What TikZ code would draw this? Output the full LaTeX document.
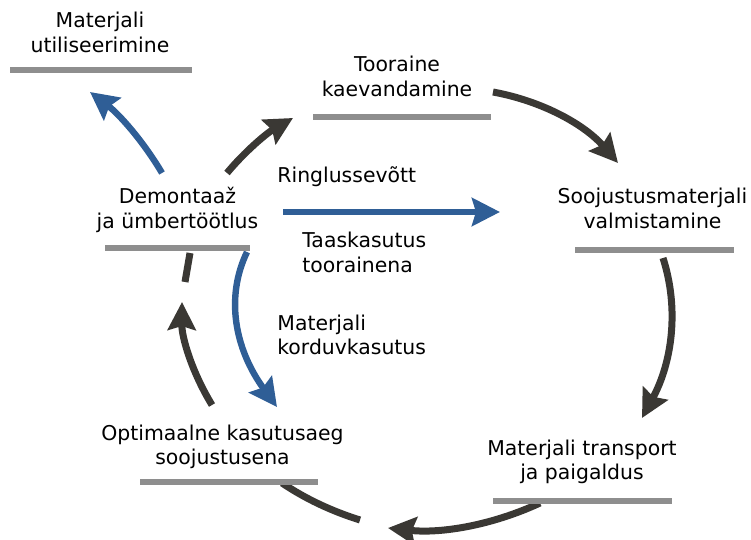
\documentclass[tikz,border=0pt]{standalone}
\usepackage{fontspec}
\setmainfont{DejaVu Sans}
\usepackage{tikz}
\usetikzlibrary{arrows.meta,positioning}
\definecolor{arrowgray}{HTML}{3A3834}
\definecolor{arrowblue}{HTML}{2F5E96}
\definecolor{bargray}{HTML}{8E8E8E}

\begin{document}
\begin{tikzpicture}[x=0.5pt, y=-0.5pt]
\tikzstyle{stage}=[font=\fontsize{10.2}{12.5}\selectfont, align=center, anchor=base, inner sep=0pt]
\tikzstyle{note}=[stage, align=left, anchor=base west]
\tikzstyle{bar}=[draw=bargray, line width=2.6pt]
\tikzstyle{flow}=[draw=arrowgray, line width=3.5pt, -{Stealth[length=14pt, width=14pt, inset=2pt]}]
\tikzstyle{stub}=[draw=arrowgray, line width=3.5pt]
\tikzstyle{reuse}=[draw=arrowblue, line width=3.2pt, -{Stealth[length=14pt, width=14pt, inset=2pt]}]
\useasboundingbox (0,0) rectangle (751,540);

% base anchor sits on the last line
\node[stage] (0) at (100,53) {Materjali\\utiliseerimine};
\node[stage] (1) at (397,97) {Tooraine\\kaevandamine};
\node[stage] (2) at (652.5,228) {Soojustusmaterjali\\valmistamine};
\node[stage] (3) at (177.5,228) {Demontaaž\\ja ümbertöötlus};
\node[stage] (4) at (582,480) {Materjali transport\\ja paigaldus};
\node[stage] (5) at (222.5,465) {Optimaalne kasutusaeg\\soojustusena};
\node[note] (6) at (277,183) {Ringlussevõtt};
\node[note] (7) at (302,272) {Taaskasutus\\toorainena};
\node[note] (8) at (277,355) {Materjali\\korduvkasutus};

% arrow ends
\coordinate (a0) at (162,173); \coordinate (a1) at (90,92);
\coordinate (b0) at (227,173); \coordinate (b1) at (293,118);
\coordinate (c0) at (493,92);  \coordinate (c1) at (618,163);
\coordinate (d0) at (663,258); \coordinate (d1) at (642,418);
\coordinate (e0) at (540,503); \coordinate (e1) at (388,528);
\coordinate (f0) at (212,405); \coordinate (f1) at (182,302);
\coordinate (g0) at (247,252); \coordinate (g1) at (277,407);
\coordinate (h0) at (283,212); \coordinate (h1) at (500,212);
\coordinate (s0) at (282,483); \coordinate (s1) at (360,520);
\coordinate (t0) at (190,253); \coordinate (t1) at (185,282);

\draw[reuse] (a0) .. controls (143.3,141.3) and (119.3,114.3) .. (a1);
\draw[flow] (b0) .. controls (245,151.3) and (267,133) .. (b1);
\draw[flow] (c0) .. controls (543.3,101.3) and (585,125) .. (c1);
\draw[flow] (d0) .. controls (679.3,308.7) and (672.3,362) .. (d1);
\draw[flow] (e0) .. controls (492,525.3) and (441.3,533.7) .. (e1);
\draw[flow] (f0) .. controls (191.7,371.7) and (181.7,337.3) .. (f1);
\draw[reuse] (g0) .. controls (225,297.7) and (235,349.3) .. (g1);
\draw[reuse] (h0) -- (h1);
\draw[stub] (s0) .. controls (305.3,498.7) and (331.3,511) .. (s1);
\draw[stub] (t0) -- (t1);

% bars under the stages
\draw[bar] (10,70) -- (192,70);
\draw[bar] (313,117) -- (491,117);
\draw[bar] (105,248) -- (250,248);
\draw[bar] (575,250) -- (734,250);
\draw[bar] (493,501) -- (672,501);
\draw[bar] (140,482) -- (318,482);
\end{tikzpicture}
\end{document}
